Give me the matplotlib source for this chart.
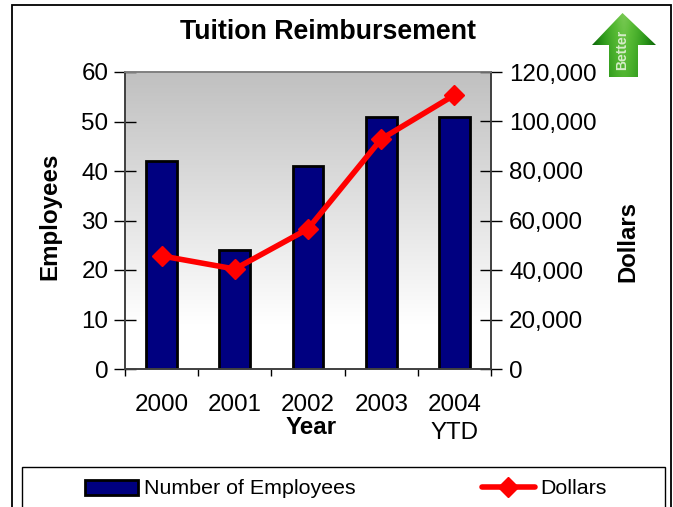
import numpy as np
import matplotlib
matplotlib.use('Agg')
import matplotlib.pyplot as plt
from matplotlib.patches import Polygon, Rectangle
from matplotlib.colors import LinearSegmentedColormap

plt.rcParams['font.family'] = ['Liberation Sans', 'DejaVu Sans']

# Data
years = ['2000', '2001', '2002', '2003', '2004\nYTD']
employees = [42, 24, 41, 51, 51]
dollars = [45700, 40400, 56600, 92900, 110700]
left_ticks = [0, 10, 20, 30, 40, 50, 60]
right_ticks = [0, 20000, 40000, 60000, 80000, 100000, 120000]

W, H = 673, 507


# pixel box (top-left origin) to figure fractions
def px_box(x0, y0, x1, y1):
    return [x0 / W, 1 - y1 / H, (x1 - x0) / W, (y1 - y0) / H]


fig = plt.figure(figsize=(W / 100, H / 100), dpi=100)
fig.patch.set_facecolor('white')

# outer frame
fig.add_artist(Rectangle((12 / W, -0.02), (670.5 - 12) / W, 1.02 - 4.5 / H,
                         transform=fig.transFigure, fill=False,
                         edgecolor='black', linewidth=1.3))

ax = fig.add_axes(px_box(125, 72, 491, 369))
x = np.arange(len(years))

# gray to white background
grad = np.linspace(0, 1, 256).reshape(-1, 1)
bg = LinearSegmentedColormap.from_list('bg', [(0, '#c0c0c0'), (0.85, '#ffffff'), (1, '#ffffff')])
ax.imshow(grad, aspect='auto', cmap=bg, extent=(-0.5, 4.5, 0, 60), origin='upper', zorder=0)

bars = ax.bar(x, employees, width=0.42, color='#000080', edgecolor='black',
              linewidth=2, zorder=2, label='Number of Employees')
ax.set_xlim(-0.5, 4.5)
ax.set_ylim(0, 60)
ax.set_yticks(left_ticks)
ax.set_xticks(x)
ax.set_xticklabels(years)
ax.set_xticks(np.arange(-0.5, 5, 1), minor=True)
ax.tick_params(axis='x', which='major', length=0, labelsize=17.4, pad=18)
ax.tick_params(axis='x', which='minor', direction='out', length=5, width=1, color='black')
ax.tick_params(axis='y', direction='inout', length=16, width=1, labelsize=17.4, pad=4)
for lab in ax.get_xticklabels():
    lab.set_linespacing(1.35)
    lab.set_verticalalignment('top')

ax2 = ax.twinx()
line, = ax2.plot(x, dollars, color='#ff0000', linewidth=4, marker='D', markersize=10.5,
                 markeredgecolor='#ff0000', label='Dollars', zorder=3,
                 solid_capstyle='round')
ax2.set_ylim(0, 120000)
ax2.set_yticks(right_ticks)
ax2.set_yticklabels([f'{v:,}' for v in right_ticks])
ax2.tick_params(axis='y', direction='inout', length=16, width=1, labelsize=17.4, pad=5)

for a in (ax, ax2):
    a.spines['top'].set_color('#808080')
    for side in ('left', 'right', 'bottom'):
        a.spines[side].set_color('#404040')
    for s in a.spines.values():
        s.set_linewidth(1.2)

# titles placed by hand
fig.text(328 / W, 1 - 32 / H, 'Tuition Reimbursement', fontsize=19.25, fontweight='bold',
         ha='center', va='center')
fig.text(50 / W, 1 - 216 / H, 'Employees', fontsize=17.4, fontweight='bold',
         rotation=90, ha='center', va='center')
fig.text(628 / W, 1 - 242 / H, 'Dollars', fontsize=17.2, fontweight='bold',
         rotation=90, ha='center', va='center')
fig.text(311 / W, 1 - 428 / H, 'Year', fontsize=17.4, fontweight='bold',
         ha='center', va='center')

# legend along the bottom, frame drawn to the full width
fig.add_artist(Rectangle((22 / W, -0.02), (665 - 22) / W, 0.02 + 40 / H,
                         transform=fig.transFigure, facecolor='white',
                         edgecolor='black', linewidth=1))
leg = fig.legend([bars, line], ['Number of Employees', 'Dollars'], ncols=2,
                 loc='center left', bbox_to_anchor=(85 / W, 1 - 489 / H), fontsize=15.4,
                 frameon=False, borderpad=0, borderaxespad=0, handlelength=2.5,
                 handletextpad=0.25, columnspacing=5.9, labelspacing=0)

# "Better" arrow, top right
arrow_ax = fig.add_axes(px_box(590, 12, 658, 78))
arrow_ax.set_xlim(590, 658)
arrow_ax.set_ylim(78, 12)
arrow_ax.axis('off')
u = np.abs(np.linspace(-1, 1, 68))
v = np.linspace(0, 1, 66)
shade = np.clip(0.8 - 0.8 * u[None, :] ** 1.5 - 0.2 * v[:, None], 0, 1)
green = LinearSegmentedColormap.from_list('gr', ['#0f6a0a', '#2f9a1c', '#58bb35', '#a8dc80'])
img = arrow_ax.imshow(shade, extent=(590, 658, 78, 12), cmap=green, aspect='auto',
                      vmin=0, vmax=1, interpolation='bilinear')
outline = Polygon([(622.5, 13), (656, 45), (638, 45), (638, 77), (609, 77), (609, 45), (592, 45)],
                  closed=True, transform=arrow_ax.transData, facecolor='none', edgecolor='none')
arrow_ax.add_patch(outline)
img.set_clip_path(outline)
arrow_ax.text(622, 50, 'Better', rotation=90, fontsize=10, fontweight='bold',
              color='#d5ecc8', ha='center', va='center')

fig.savefig('out.png', dpi=100)
